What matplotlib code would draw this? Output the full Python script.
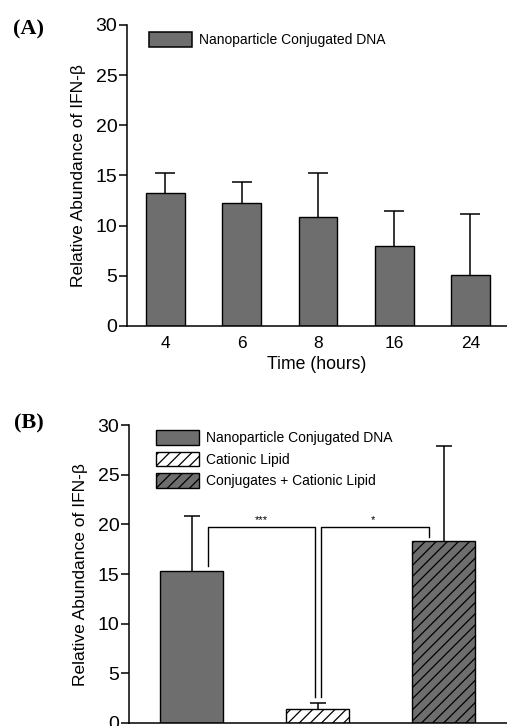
import matplotlib
matplotlib.use('Agg')
import matplotlib.pyplot as plt
from matplotlib.patches import Patch

# panel A data
times = ['4', '6', '8', '16', '24']
abund_a = [13.3, 12.3, 10.9, 7.95, 5.05]
err_a = [1.9, 2.0, 4.3, 3.55, 6.15]

# panel B data
groups = ['Nanoparticle Conjugated DNA', 'Cationic Lipid', 'Conjugates + Cationic Lipid']
abund_b = [15.3, 1.4, 18.3]
err_b = [5.55, 0.56, 9.6]
hatches_b = ['', '///', '///']
colors_b = ['#6e6e6e', 'white', '#6e6e6e']

plt.rcParams['font.family'] = ['Liberation Sans', 'DejaVu Sans']
plt.rcParams['hatch.linewidth'] = 0.9

GREY = '#6e6e6e'

fig = plt.figure(figsize=(5.07, 7.26), dpi=100)


def style_axes(ax):
    ax.spines['top'].set_visible(False)
    ax.spines['right'].set_visible(False)
    ax.spines['left'].set_linewidth(1.1)
    ax.spines['bottom'].set_linewidth(1.1)
    ax.set_ylim(0, 30)
    ax.set_yticks(range(0, 31, 5))
    ax.tick_params(axis='y', direction='out', length=5.5, width=1.1, labelsize=14, pad=1.5)
    ax.set_ylabel('Relative Abundance of IFN-β', fontsize=12.5, labelpad=7)


def up_errors(ax, x, vals, errs, cap):
    # only the upper half of each error bar is drawn
    _, caps, _ = ax.errorbar(x, vals, yerr=[[0] * len(errs), errs], fmt='none',
                             ecolor='black', elinewidth=1.1, capsize=cap,
                             capthick=1.1, zorder=1)
    caps[0].set_visible(False)


# ---- (A)
ax1 = fig.add_axes([0.2505, 0.551, 0.7495, 0.4146])
x_a = range(len(times))
ax1.bar(x_a, abund_a, width=0.51, color=GREY, edgecolor='black', linewidth=1.0, zorder=2)
up_errors(ax1, x_a, abund_a, err_a, 7)
ax1.set_xlim(-0.505, 4.48)
ax1.set_xticks(list(x_a))
ax1.set_xticklabels(times)
ax1.tick_params(axis='x', length=0, labelsize=12.5, pad=7.5)
ax1.set_xlabel('Time (hours)', fontsize=12.7, labelpad=3)
style_axes(ax1)
ax1.legend(handles=[Patch(facecolor=GREY, edgecolor='black', linewidth=1.1,
                          label='Nanoparticle Conjugated DNA')],
           loc='upper left', bbox_to_anchor=(0.058, 0.975), frameon=False,
           borderpad=0, borderaxespad=0, fontsize=10, handlelength=3.1,
           handleheight=1.22, handletextpad=0.5)
fig.text(0.056, 0.960, '(A)', fontsize=16, fontweight='bold',
         family='Liberation Serif', ha='center', va='center')

# ---- (B)
ax2 = fig.add_axes([0.2544, 0.0045, 0.7456, 0.4097])
x_b = range(len(groups))
up_errors(ax2, x_b, abund_b, err_b, 5.8)
for xi, v, h, c, lab in zip(x_b, abund_b, hatches_b, colors_b, groups):
    ax2.bar(xi, v, width=0.5, color=c, edgecolor='black', hatch=h,
            linewidth=1.0, zorder=2, label=lab)
ax2.set_xlim(-0.50, 2.50)
ax2.set_xticks([])
style_axes(ax2)

# significance brackets
ax2.plot([0.127, 0.127, 0.98, 0.98], [15.8, 19.7, 19.7, 2.6], color='black', lw=1.0)
ax2.plot([1.02, 1.02, 1.88, 1.88], [2.6, 19.7, 19.7, 18.7], color='black', lw=1.0)
ax2.text(0.55, 19.9, '***', ha='center', va='bottom', fontsize=8)
ax2.text(1.44, 19.9, '*', ha='center', va='bottom', fontsize=8)

ax2.legend(loc='upper left', bbox_to_anchor=(0.0706, 0.983), frameon=False,
           borderpad=0, borderaxespad=0, fontsize=10, handlelength=3.1,
           handleheight=1.22, handletextpad=0.5, labelspacing=0.48)
fig.text(0.056, 0.417, '(B)', fontsize=16, fontweight='bold',
         family='Liberation Serif', ha='center', va='center')

fig.savefig('out.png', dpi=100)
